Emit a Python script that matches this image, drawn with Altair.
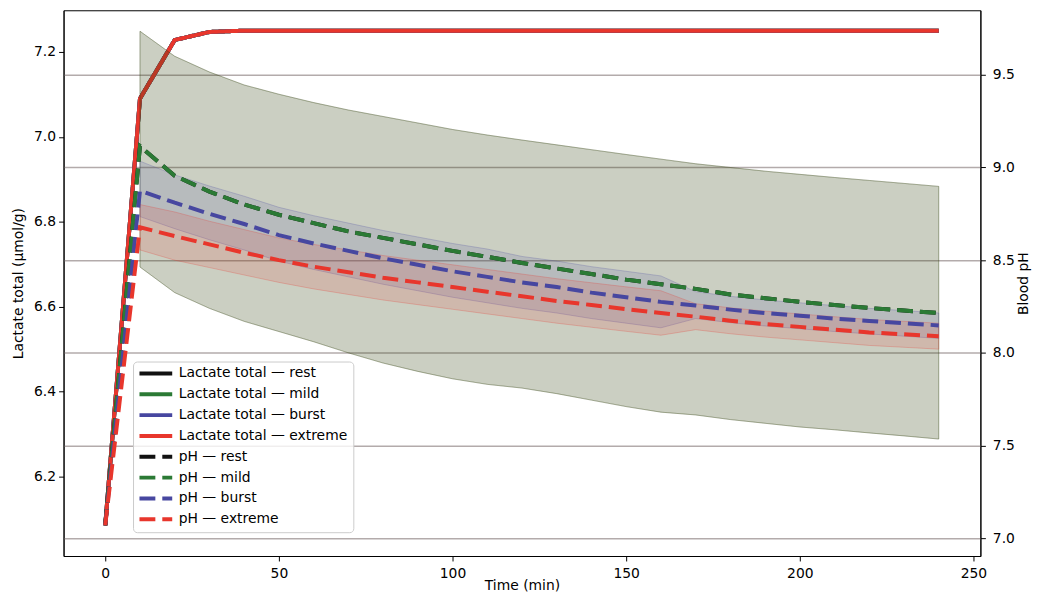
import altair as alt
import pandas as pd

# ---------------- data ----------------
time_min = [0, 10, 20, 30, 40, 50, 60, 70, 80, 90, 100, 110, 120, 130, 140,
            150, 160, 170, 180, 190, 200, 210, 220, 230, 240]
band_time = [10, 20, 30, 40, 50, 60, 70, 80, 90, 100, 110, 120, 130, 140,
             150, 160, 170, 180, 190, 200, 210, 220, 230, 240]

scenarios = ["rest", "mild", "burst", "extreme"]
line_colors = ["#111111", "#2b7a35", "#4747a0", "#e8362c"]
band_colors = ["#000000", "#50641a", "#4747a0", "#e8362c"]
band_opacity = [0.10, 0.17, 0.15, 0.15]

# Lactate total (umol/g) -- all four scenarios coincide
lactate_rest = [6.085, 7.09, 7.228, 7.247, 7.25, 7.25, 7.25, 7.25, 7.25, 7.25, 7.25, 7.25, 7.25,
                7.25, 7.25, 7.25, 7.25, 7.25, 7.25, 7.25, 7.25, 7.25, 7.25, 7.25, 7.25]
lactate_mild = [6.085, 7.09, 7.228, 7.247, 7.25, 7.25, 7.25, 7.25, 7.25, 7.25, 7.25, 7.25, 7.25,
                7.25, 7.25, 7.25, 7.25, 7.25, 7.25, 7.25, 7.25, 7.25, 7.25, 7.25, 7.25]
lactate_burst = [6.085, 7.09, 7.228, 7.247, 7.25, 7.25, 7.25, 7.25, 7.25, 7.25, 7.25, 7.25, 7.25,
                 7.25, 7.25, 7.25, 7.25, 7.25, 7.25, 7.25, 7.25, 7.25, 7.25, 7.25, 7.25]
lactate_extreme = [6.085, 7.09, 7.228, 7.247, 7.25, 7.25, 7.25, 7.25, 7.25, 7.25, 7.25, 7.25, 7.25,
                   7.25, 7.25, 7.25, 7.25, 7.25, 7.25, 7.25, 7.25, 7.25, 7.25, 7.25, 7.25]

# Blood pH
ph_rest = [7.07, 9.115, 8.955, 8.87, 8.80, 8.745, 8.70, 8.655, 8.62, 8.585, 8.55, 8.518, 8.485,
           8.455, 8.425, 8.395, 8.37, 8.345, 8.315, 8.295, 8.275, 8.258, 8.242, 8.228, 8.215]
ph_mild = [7.07, 9.115, 8.955, 8.87, 8.80, 8.745, 8.70, 8.655, 8.62, 8.585, 8.55, 8.518, 8.485,
           8.455, 8.425, 8.395, 8.37, 8.345, 8.315, 8.295, 8.275, 8.258, 8.242, 8.228, 8.215]
ph_burst = [7.07, 8.875, 8.81, 8.75, 8.695, 8.635, 8.59, 8.55, 8.51, 8.475, 8.44, 8.41, 8.38,
            8.355, 8.325, 8.30, 8.275, 8.255, 8.233, 8.215, 8.20, 8.185, 8.172, 8.16, 8.148]
ph_extreme = [7.07, 8.677, 8.63, 8.585, 8.54, 8.50, 8.465, 8.435, 8.405, 8.38, 8.355, 8.33, 8.305,
              8.28, 8.258, 8.236, 8.215, 8.195, 8.173, 8.155, 8.14, 8.125, 8.11, 8.10, 8.09]

# pH spread bands (upper / lower edges)
ph_rest_hi = [9.735, 9.60, 9.515, 9.445, 9.395, 9.35, 9.31, 9.275, 9.24, 9.205, 9.175, 9.148,
              9.122, 9.096, 9.07, 9.045, 9.02, 9.0, 8.98, 8.963, 8.946, 8.93, 8.914, 8.898]
ph_rest_lo = [8.463, 8.325, 8.24, 8.17, 8.115, 8.06, 8.00, 7.945, 7.90, 7.86, 7.83, 7.81,
              7.78, 7.745, 7.71, 7.68, 7.665, 7.64, 7.62, 7.60, 7.585, 7.568, 7.552, 7.535]
ph_mild_hi = [9.735, 9.60, 9.515, 9.445, 9.395, 9.35, 9.31, 9.275, 9.24, 9.205, 9.175, 9.148,
              9.122, 9.096, 9.07, 9.045, 9.02, 9.0, 8.98, 8.963, 8.946, 8.93, 8.914, 8.898]
ph_mild_lo = [8.463, 8.325, 8.24, 8.17, 8.115, 8.06, 8.00, 7.945, 7.90, 7.86, 7.83, 7.81,
              7.78, 7.745, 7.71, 7.68, 7.665, 7.64, 7.62, 7.60, 7.585, 7.568, 7.552, 7.535]
ph_burst_hi = [9.034, 8.96, 8.90, 8.845, 8.785, 8.74, 8.70, 8.66, 8.625, 8.59, 8.56, 8.52,
               8.495, 8.465, 8.44, 8.415, 8.33, 8.305, 8.285, 8.27, 8.255, 8.24, 8.228, 8.215]
ph_burst_lo = [8.735, 8.67, 8.61, 8.555, 8.495, 8.45, 8.41, 8.37, 8.335, 8.30, 8.27, 8.24,
               8.215, 8.185, 8.16, 8.135, 8.185, 8.163, 8.145, 8.13, 8.115, 8.102, 8.09, 8.078]
ph_extreme_hi = [8.80, 8.76, 8.71, 8.665, 8.62, 8.585, 8.555, 8.525, 8.50, 8.475, 8.45, 8.425,
                 8.40, 8.378, 8.356, 8.335, 8.265, 8.243, 8.225, 8.21, 8.195, 8.18, 8.17, 8.16]
ph_extreme_lo = [8.555, 8.50, 8.46, 8.42, 8.38, 8.345, 8.315, 8.285, 8.26, 8.235, 8.21, 8.185,
                 8.16, 8.138, 8.116, 8.095, 8.125, 8.103, 8.085, 8.07, 8.055, 8.04, 8.03, 8.02]

x_ticks = [0, 50, 100, 150, 200, 250]
lactate_ticks = [6.2, 6.4, 6.6, 6.8, 7.0, 7.2]
ph_ticks = [7.0, 7.5, 8.0, 8.5, 9.0, 9.5]

# ---------------- tables ----------------
lactate_series = {"rest": lactate_rest, "mild": lactate_mild,
                  "burst": lactate_burst, "extreme": lactate_extreme}
ph_series = {"rest": ph_rest, "mild": ph_mild, "burst": ph_burst, "extreme": ph_extreme}
band_series = {"rest": (ph_rest_lo, ph_rest_hi), "mild": (ph_mild_lo, ph_mild_hi),
               "burst": (ph_burst_lo, ph_burst_hi), "extreme": (ph_extreme_lo, ph_extreme_hi)}

lact_rows, ph_rows, band_rows = [], [], []
for s in scenarios:
    for t, v in zip(time_min, lactate_series[s]):
        lact_rows.append({"time": t, "value": v, "series": f"Lactate total — {s}"})
    for t, v in zip(time_min, ph_series[s]):
        ph_rows.append({"time": t, "value": v, "series": f"pH — {s}"})
    lo, hi = band_series[s]
    for t, a, b in zip(band_time, lo, hi):
        band_rows.append({"time": t, "lo": a, "hi": b, "band": s})

lact_df = pd.DataFrame(lact_rows)
ph_df = pd.DataFrame(ph_rows)
band_df = pd.DataFrame(band_rows)

names = [f"Lactate total — {s}" for s in scenarios] + [f"pH — {s}" for s in scenarios]
color_scale = alt.Scale(domain=names, range=line_colors + line_colors)
dash_scale = alt.Scale(domain=names, range=[[1, 0]] * 4 + [[16, 7]] * 4)

x_enc = alt.X("time:Q", scale=alt.Scale(domain=[-12, 252], nice=False, zero=False),
              axis=alt.Axis(values=x_ticks, title="Time (min)", grid=False,
                            labelPadding=6, titlePadding=-2))
lact_scale = alt.Scale(domain=[6.013, 7.298], nice=False, zero=False)
ph_scale = alt.Scale(domain=[6.904, 9.848], nice=False, zero=False)
ph_axis = alt.Axis(orient="right", values=ph_ticks, format=".1f", title="Blood pH",
                   grid=True, gridColor="#b3abab", gridWidth=1.5,
                   labelPadding=7, titlePadding=16, titleAngle=270)

lact = alt.Chart(lact_df).mark_line(strokeWidth=4, strokeCap="butt").encode(
    x=x_enc,
    y=alt.Y("value:Q", scale=lact_scale,
            axis=alt.Axis(orient="left", values=lactate_ticks, format=".1f",
                          title="Lactate total (µmol/g)", grid=False, titlePadding=8)),
    color=alt.Color("series:N", scale=color_scale, legend=alt.Legend(title=None)),
    strokeDash=alt.StrokeDash("series:N", scale=dash_scale, legend=alt.Legend(title=None)),
)

band_layers = []
for s, c, op in zip(scenarios, band_colors, band_opacity):
    band_layers.append(
        alt.Chart(band_df).transform_filter(alt.datum.band == s).mark_area(
            color=c, fillOpacity=op, stroke=c, strokeOpacity=op + 0.1, strokeWidth=1
        ).encode(
            x=x_enc,
            y=alt.Y("lo:Q", scale=ph_scale, axis=ph_axis),
            y2="hi:Q",
        )
    )

ph_lines = alt.Chart(ph_df).mark_line(strokeWidth=4, strokeCap="butt").encode(
    x=x_enc,
    y=alt.Y("value:Q", scale=ph_scale, axis=ph_axis),
    color=alt.Color("series:N", scale=color_scale, legend=alt.Legend(title=None)),
    strokeDash=alt.StrokeDash("series:N", scale=dash_scale, legend=alt.Legend(title=None)),
)

chart = alt.layer(lact, alt.layer(*band_layers, ph_lines)).resolve_scale(
    y="independent"
).properties(
    width=924, height=550,
    autosize=alt.AutoSizeParams(type="none"),
    padding={"left": 56, "top": 0, "right": 52, "bottom": 37},
).configure(
    font="DejaVu Sans",
).configure_view(
    stroke="#000000", strokeWidth=1,
).configure_axis(
    labelFontSize=14, titleFontSize=14, labelColor="#000000", titleColor="#000000",
    titleFontWeight="normal", tickColor="#000000", domainColor="#000000",
    tickSize=5, labelPadding=3, domainWidth=1, tickWidth=1,
).configure_legend(
    orient="none", legendX=70, legendY=354, symbolType="M-3.3,0H3.3", symbolStrokeWidth=4,
    symbolSize=100, symbolOffset=11, labelOffset=16, labelFontSize=14, labelColor="#000000",
    padding=5, fillColor="rgba(255,255,255,0.8)", strokeColor="#cccccc", cornerRadius=4,
    labelLimit=400, rowPadding=5,
)

chart.save("out.html", embed_options={"renderer": "svg", "actions": False})
